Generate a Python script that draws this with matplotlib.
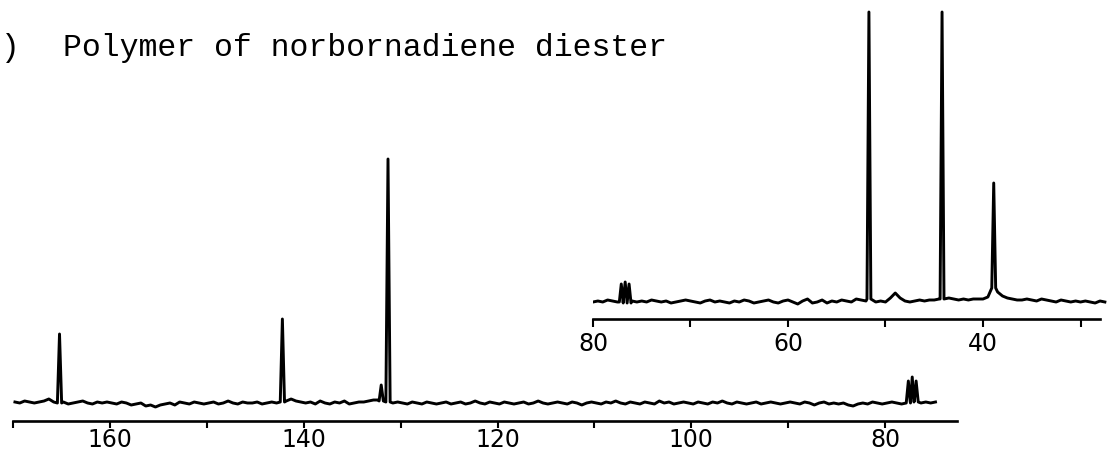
import numpy as np
import matplotlib
matplotlib.use("Agg")
import matplotlib.pyplot as plt

# ---------------------------------------------------------------------------
# 13C NMR spectrum of the norbornadiene-diester polymer (chemical shift, ppm)
# Intensities are in recorder units above the baseline.
# ---------------------------------------------------------------------------

# Full-range trace: baseline readings from 169.8 down to 74.8 ppm (0.5 ppm steps)
main_baseline = [
    1, 0, 2, 1, 0, 1, 2, 4, 1, 0,
    1, -1, 0, 1, 2, 0, -1, 1, 0, 1,
    0, -1, 1, 0, -2, -1, 0, -3, -2, -4,
    -2, -1, 0, -2, 1, 0, -1, 1, 0, -1,
    0, 1, -1, 0, 2, 0, -1, 1, 0, 0,
    1, -1, 0, 1, 0, 1, 2, 4, 2, 1,
    0, 1, -1, 2, 0, -1, 1, 0, 2, -1,
    0, 1, 1, 2, 3, 3, 2, 1, 0, 1,
    0, -1, 1, 0, -1, 1, 0, -1, 0, 1,
    -1, 0, 1, -1, 0, 2, 0, -1, 1, 0,
    -1, 1, 0, -1, 0, 1, -1, 0, 2, 0,
    -1, 0, 1, 0, -1, 1, 0, -2, 0, 1,
    0, -1, 1, 0, 2, 0, -1, 1, 0, -1,
    1, 0, -1, 2, 0, 1, -1, 0, 1, 0,
    -1, 1, 0, -1, 1, 0, 2, 0, -1, 1,
    0, -1, 0, 1, -1, 0, 1, 0, -1, 0,
    1, 0, -1, 1, 0, -2, 0, 1, -1, 0,
    -1, 0, -2, -3, -1, 0, -1, 1, 0, -1,
    0, 1, 0, -1, 0, 2, 1, 0, 1, 0,
    1,
]
main_range = (169.8, 74.8)

# Resolved lines on the full-range trace (ppm, intensity)
main_peak_ppm = [165.2, 142.2, 132.0, 131.3, 77.6, 77.2, 76.8]
main_peak_int = [69, 84, 18, 244, 22, 26, 22]

main_ticks = [170, 160, 150, 140, 130, 120, 110, 100, 90, 80]
main_labels = [160, 140, 120, 100, 80]

# Expanded upfield trace: baseline readings from 80 down to 27.5 ppm (0.5 ppm steps)
inset_baseline = [
    0, 1, 0, 2, 1, 0, 0, -1, 1, 0,
    1, 0, 2, 1, 0, 1, -1, 0, 1, 2,
    1, 0, -1, 1, 2, 0, 1, 0, -1, 1,
    0, 2, 1, -1, 0, 1, 2, 0, -1, 1,
    2, 0, -2, 1, 3, -1, 0, 2, -1, 1,
    0, 2, 1, 0, 3, 2, 1, 3, 0, 1,
    0, 4, 9, 4, 1, 0, 1, 2, 1, 2,
    2, 3, 3, 4, 3, 2, 3, 2, 3, 3,
    3, 5, 14, 10, 6, 4, 3, 2, 2, 3,
    2, 1, 3, 2, 1, 0, 2, 1, 0, 1,
    0, 1, 0, -1, 1, 0,
]
inset_range = (80.0, 27.5)

inset_peak_ppm = [77.1, 76.7, 76.3, 51.7, 44.2, 38.9]
inset_peak_int = [18, 20, 18, 290, 290, 119]

inset_ticks = [80, 70, 60, 50, 40, 30]
inset_labels = [80, 60, 40]

panel_tag = "a)"
title_text = "Polymer of norbornadiene diester"


def build_trace(baseline, ppm_range, peak_ppm, peak_int, half_width):
    """Merge the baseline readings with narrow lines for each resolved peak."""
    grid = np.linspace(ppm_range[0], ppm_range[1], len(baseline))
    base = np.asarray(baseline, dtype=float)
    keep = np.ones(len(grid), dtype=bool)
    xs, ys = [], []
    for p, h in zip(peak_ppm, peak_int):
        keep &= np.abs(grid - p) > half_width
        foot = base[np.argmin(np.abs(grid - p))]
        xs += [p + half_width, p, p - half_width]
        ys += [foot, h, foot]
    xs = np.concatenate([grid[keep], xs])
    ys = np.concatenate([base[keep], ys])
    order = np.argsort(-xs)
    return xs[order], ys[order]


W, H = 1107, 452
fig = plt.figure(figsize=(W / 100, H / 100), dpi=100)


def px_axes(left, right, top, bottom):
    return fig.add_axes([left / W, 1 - bottom / H, (right - left) / W, (bottom - top) / H])


tick_font = dict(family="DejaVu Sans", size=17)
line_kw = dict(color="black", lw=2.1, solid_joinstyle="round")

# ---- full-range spectrum -------------------------------------------------
ax = px_axes(13, 957, 150, 422)
ax.set_facecolor("none")
x, y = build_trace(main_baseline, main_range, main_peak_ppm, main_peak_int, 0.22)
ax.plot(x, y, **line_kw)
ax.set_xlim(170, 170 - 944 / 9.69)
ax.set_ylim(-18, 254)
for s in ("top", "left", "right"):
    ax.spines[s].set_visible(False)
ax.spines["bottom"].set_linewidth(1.9)
ax.spines["bottom"].set_bounds(170, 72.6)
ax.set_yticks([])
ax.set_xticks(main_ticks)
ax.set_xticklabels([str(t) if t in main_labels else "" for t in main_ticks], **tick_font)
ax.tick_params(axis="x", direction="out", length=5, width=1.5, pad=-1)

# ---- expanded upfield spectrum ------------------------------------------
ax2 = px_axes(593, 1107, 5, 320)
ax2.set_facecolor("none")
x2, y2 = build_trace(inset_baseline, inset_range, inset_peak_ppm, inset_peak_int, 0.2)
ax2.plot(x2, y2, **line_kw)
ax2.set_xlim(80, 80 - 514 / 9.75)
ax2.set_ylim(-17, 298)
for s in ("top", "left", "right"):
    ax2.spines[s].set_visible(False)
ax2.spines["bottom"].set_linewidth(1.9)
ax2.spines["bottom"].set_bounds(80, 28.0)
ax2.set_yticks([])
ax2.set_xticks(inset_ticks)
ax2.set_xticklabels([str(t) if t in inset_labels else "" for t in inset_ticks], **tick_font)
ax2.tick_params(axis="x", direction="out", length=6, width=1.5, pad=3)

# ---- caption (panel tag runs off the left edge of the page) ----------------
cap_kw = dict(family="Liberation Mono", size=22.7, ha="left", va="baseline", color="black")
fig.text(-18 / W, 1 - 56 / H, panel_tag, **cap_kw)
fig.text(63 / W, 1 - 56 / H, title_text, **cap_kw)

fig.savefig("out.png", dpi=100)
